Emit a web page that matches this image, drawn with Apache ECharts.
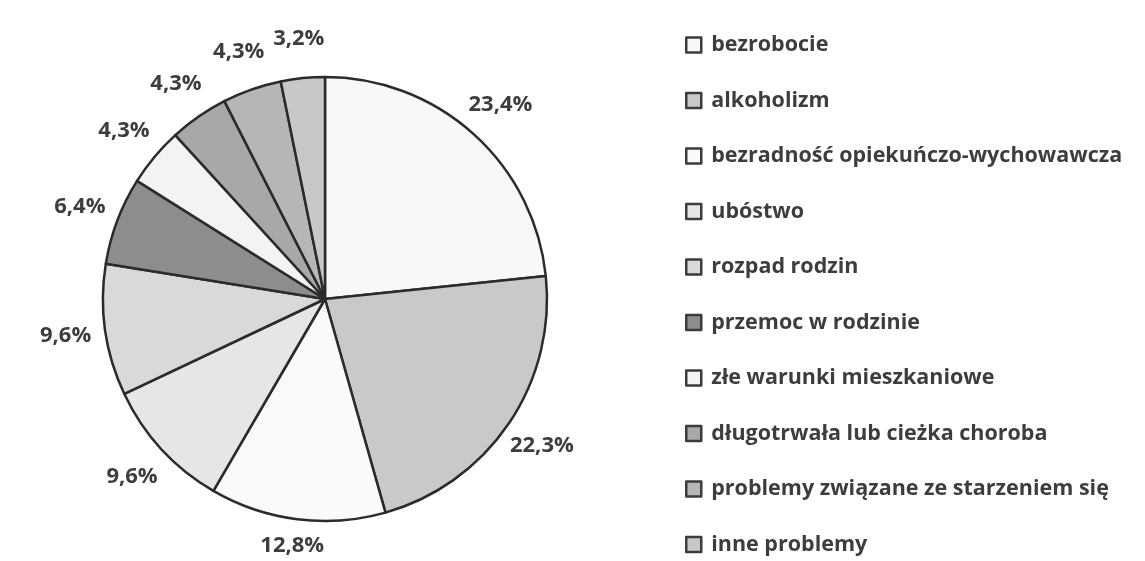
<!DOCTYPE html>
<html><head><meta charset="utf-8">
<script src="https://cdn.jsdelivr.net/npm/echarts@6/dist/echarts.min.js"></script>
<style>html,body{margin:0;padding:0;background:#fff}#c{width:1145px;height:561px}</style>
</head><body><div id="c"></div>
<script>
const categories = ['bezrobocie','alkoholizm','bezradność opiekuńczo-wychowawcza','ubóstwo','rozpad rodzin','przemoc w rodzinie','złe warunki mieszkaniowe','długotrwała lub cieżka choroba','problemy związane ze starzeniem się','inne problemy'];
const values = [23.4, 22.3, 12.8, 9.6, 9.6, 6.4, 4.3, 4.3, 4.3, 3.2];
const colors = ['#f8f8f8','#c9c9c9','#fafafa','#e6e6e6','#d9d9d9','#8d8d8d','#f3f3f3','#a8a8a8','#b6b6b6','#c8c8c8'];
const chart = echarts.init(document.getElementById('c'));
const font = '"Open Sans"';
chart.setOption({
  animation: false,
  color: colors,
  legend: {
    orient: 'vertical', left: 685, top: 34, height: 540, padding: 0,
    icon: 'rect', itemWidth: 15, itemHeight: 15, itemGap: 33.5,
    itemStyle: { borderColor: '#3c3c3c', borderWidth: 2.5 },
    textStyle: { fontFamily: font, fontWeight: 'bold', fontSize: 21.5, color: '#3d3d3d', lineHeight: 22, padding: [0,0,0,5] },
    data: categories
  },
  series: [{
    type: 'pie', center: [325, 299], radius: 222, startAngle: 90, clockwise: true,
    avoidLabelOverlap: false,
    itemStyle: { borderColor: '#2b2b2b', borderWidth: 2.5 },
    label: {
      position: 'outside', distanceToLabelLine: 0,
      fontFamily: font, fontWeight: 'bold', fontSize: 22, color: '#3d3d3d',
      formatter: p => p.value.toFixed(1).replace('.', ',') + '%'
    },
    labelLine: { show: false, length: 40, length2: 0 },
    labelLayout: function (p) {
      const r = p.labelRect;
      const cy = r.y + r.height / 2;
      const maxY = chart.getHeight() - 15;
      const out = { align: 'center', verticalAlign: 'middle' };
      if (cy > maxY) out.y = maxY;
      return out;
    },
    emphasis: { disabled: true },
    data: categories.map((n, i) => ({ name: n, value: values[i] }))
  }]
});
</script></body></html>
